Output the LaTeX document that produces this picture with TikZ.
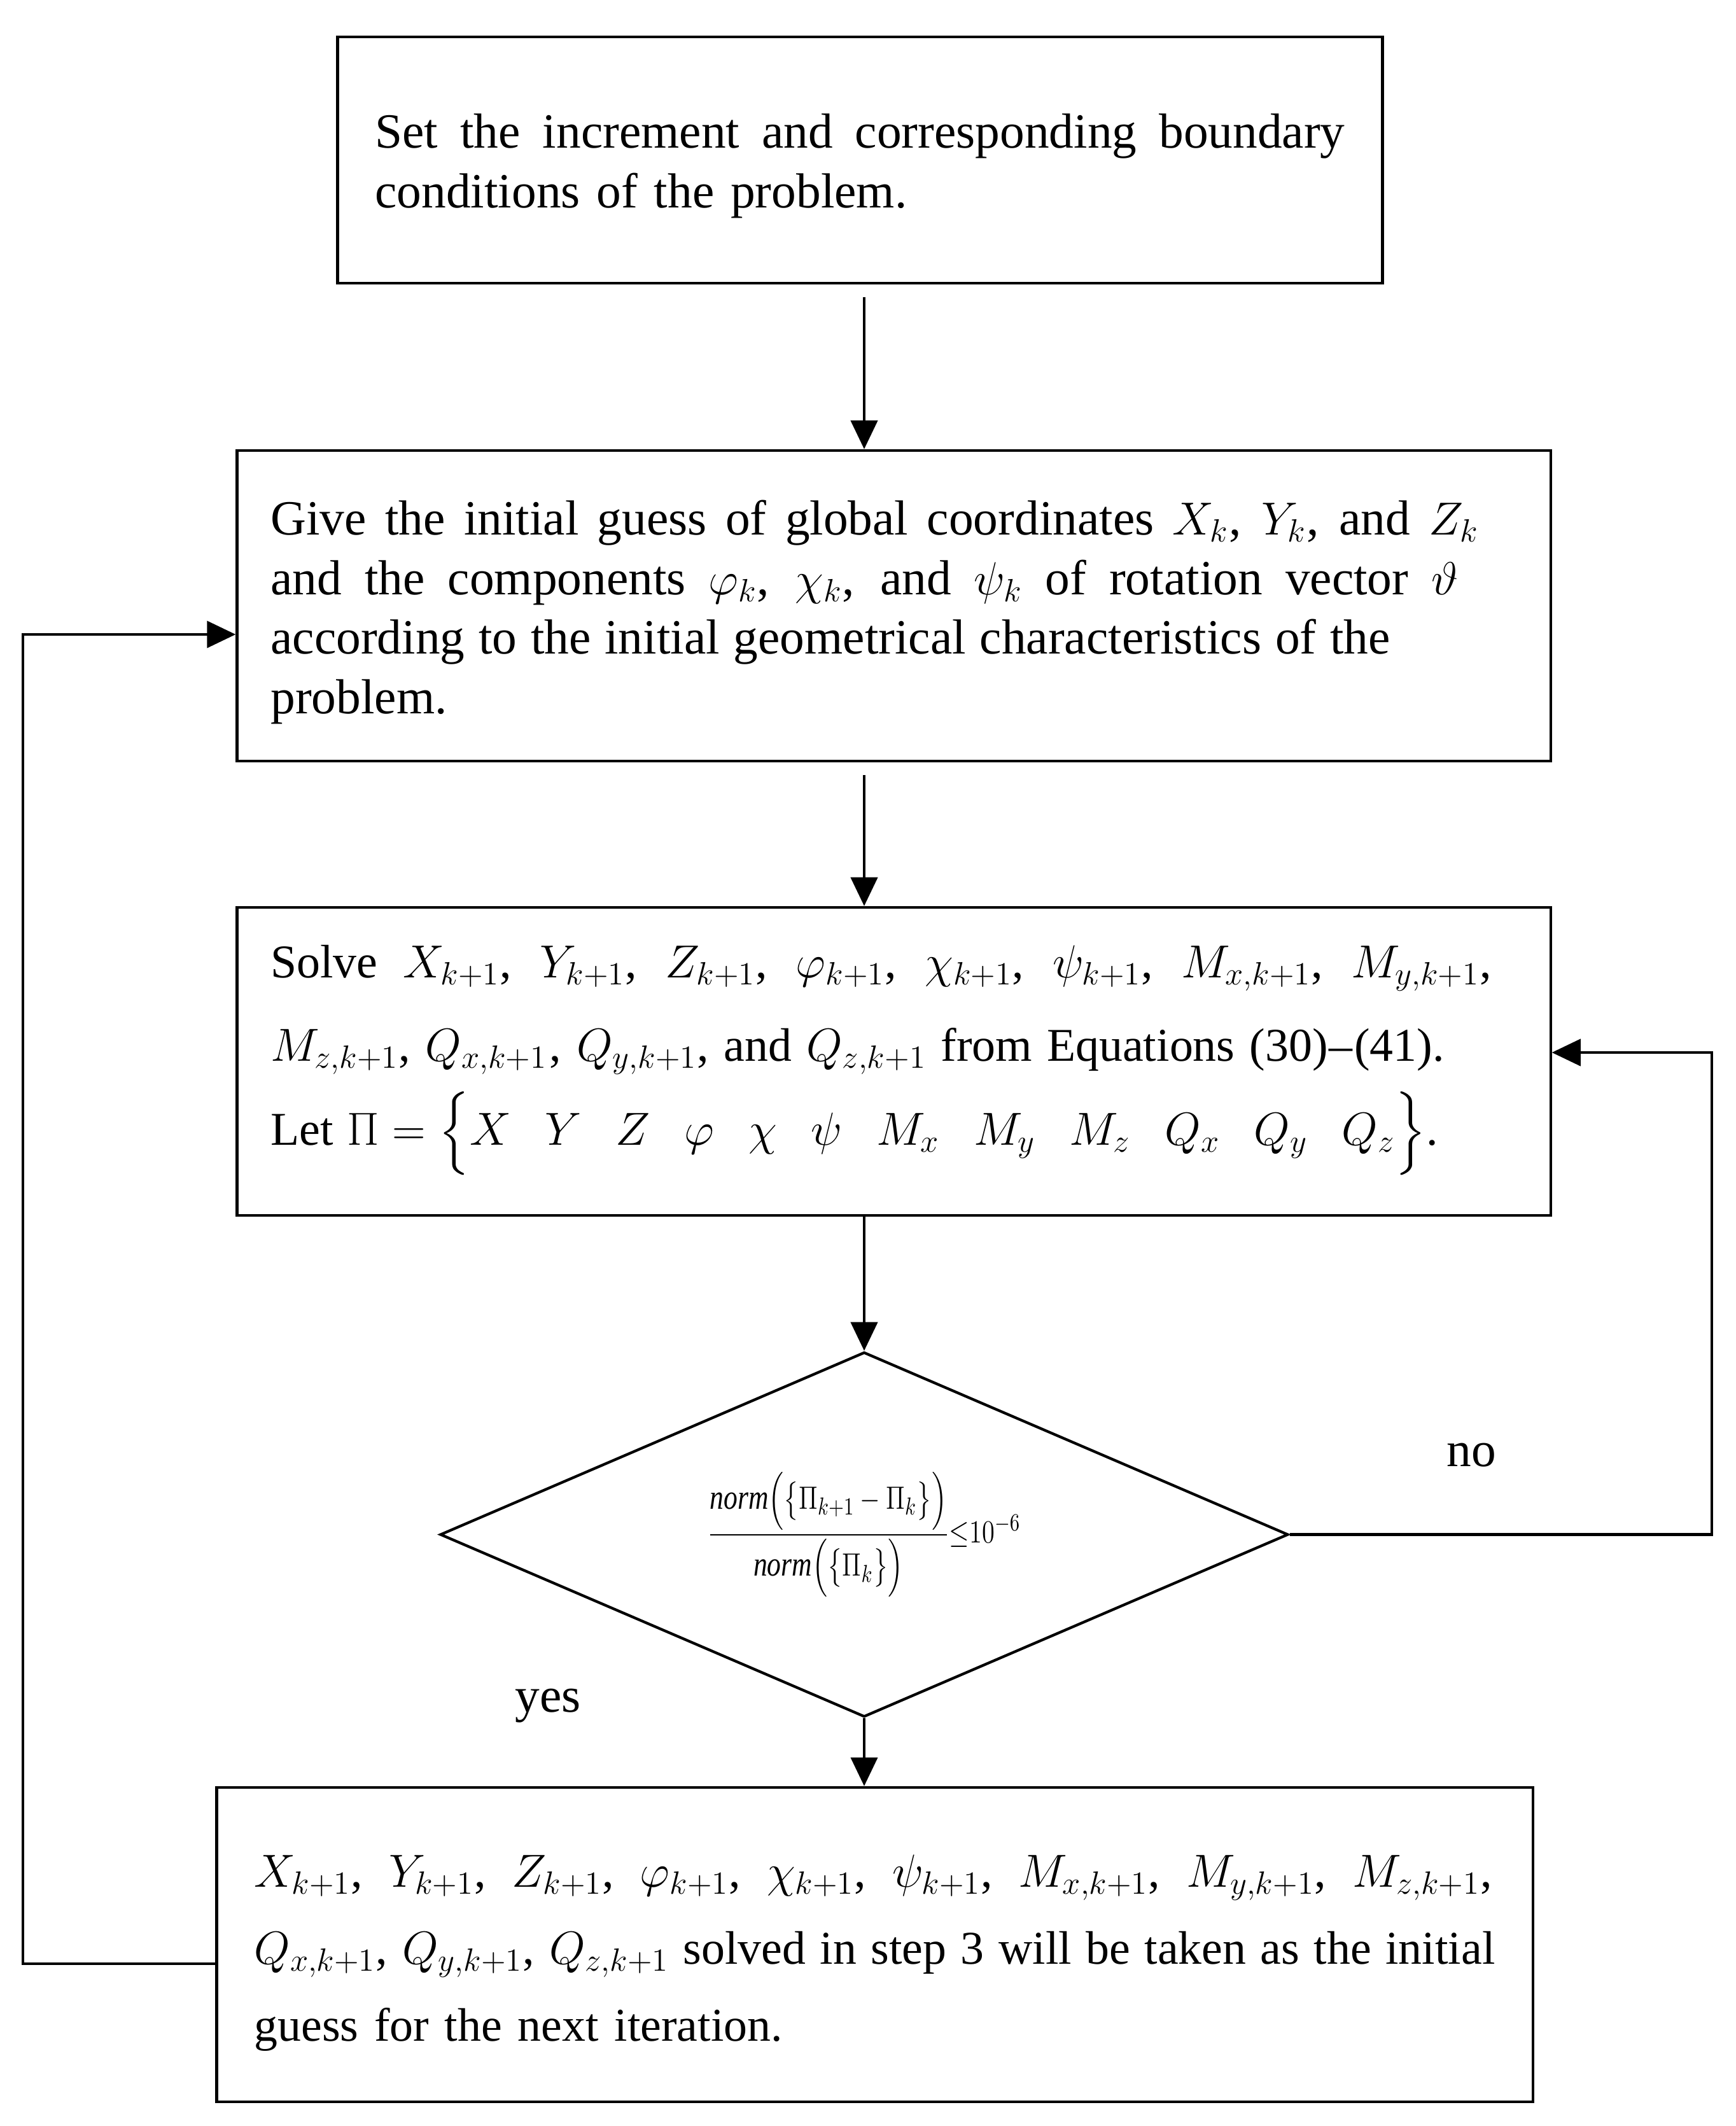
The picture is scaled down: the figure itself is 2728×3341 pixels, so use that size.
\documentclass[tikz,border=0pt]{standalone}
\usepackage{fontspec}
\setmainfont{Liberation Serif}
\usepackage{amsmath}
\usepackage{graphicx}
\usetikzlibrary{shapes.geometric,arrows.meta,calc}
\newcommand{\jl}[2]{\makebox[#1][s]{\spaceskip=\fontdimen2\font plus 1fil minus 0.05em\relax #2}}
\newcommand{\gp}{\hskip 0.4cm plus 1fil\relax}
\begin{document}
\begin{tikzpicture}[x=0.01cm,y=-0.01cm,
  stepbox/.style={draw, line width=1.2pt, rectangle, inner sep=0pt},
  txt/.style={align=left, inner sep=0pt, font=\fontsize{22}{26.7}\selectfont},
  arr/.style={line width=1.2pt, -{Triangle[length=0.45cm,width=0.42cm]}},
  lab/.style={font=\fontsize{22}{26}\selectfont}]
\useasboundingbox (0,0) rectangle (2728,3341);

% boxes
\node[stepbox, minimum width=16.41cm, minimum height=3.87cm] (box1) at (1351.5,251.5) {};
\node[stepbox, minimum width=20.63cm, minimum height=4.88cm] (box2) at (1404.5,952) {};
\node[stepbox, minimum width=20.63cm, minimum height=4.84cm] (box3) at (1404.5,1668) {};
\node[stepbox, minimum width=20.67cm, minimum height=4.94cm] (box4) at (1374.5,3056) {};
\node[diamond, draw, line width=1.2pt, minimum width=13.32cm, minimum height=5.73cm,
  inner sep=0pt, aspect=2.3, font=\fontsize{15.5}{18}\selectfont] (dia) at (1358,2411.5)
 {\scalebox{0.8}[1]{$\dfrac{\mathit{norm}\Bigl(\bigl\{\Pi_{k+1}-\Pi_k\bigr\}\Bigr)}{\mathit{norm}\Bigl(\bigl\{\Pi_k\bigr\}\Bigr)}{\le}10^{-6}$}};

% texts
\node[txt, text width=15.23cm] (t1) at ($(box1.center)+(0,9)$)
 {\jl{15.23cm}{Set the increment and corresponding boundary}\\ conditions of the problem.};

\node[txt, text width=19.57cm] (t2) at ($(box2.center)+(0,10)$)
 {\jl{18.97cm}{Give the initial guess of global coordinates $X_k$, $Y_k$, and $Z_k$}\\
  \jl{18.65cm}{and the components $\varphi_k$, $\chi_k$, and $\psi_k$ of rotation vector $\vartheta$}\\
  \jl{17.58cm}{according to the initial geometrical characteristics of the}\\
  problem.};

\node[txt, text width=19.57cm, font=\fontsize{21}{37.3}\selectfont] (t3) at ($(box3.center)+(0,-2)$)
 {\jl{19.17cm}{Solve $X_{k+1}$, $Y_{k+1}$, $Z_{k+1}$, $\varphi_{k+1}$, $\chi_{k+1}$, $\psi_{k+1}$, $M_{x,k+1}$, $M_{y,k+1}$,}\\
  \jl{18.43cm}{$M_{z,k+1}$, $Q_{x,k+1}$\kern0.05em, $Q_{y,k+1}$, and $Q_{z,k+1}$ from Equations (30)\kern0.03em--\kern0.03em(41).}\\
  \makebox[18.33cm][s]{Let\hspace{0.3em}$\Pi=\Bigl\{X\gp Y\gp Z\gp \varphi\gp \chi\gp \psi\gp M_x\gp M_y\gp M_z\gp Q_x\gp Q_y\gp Q_z\Bigr\}$.}};

\node[txt, text width=19.49cm, font=\fontsize{21}{34.5}\selectfont] (t4) at ($(box4.center)+(0,13)$)
 {\jl{19.44cm}{$X_{k+1}$, $Y_{k+1}$, $Z_{k+1}$, $\varphi_{k+1}$, $\chi_{k+1}$, $\psi_{k+1}$, $M_{x,k+1}$, $M_{y,k+1}$, $M_{z,k+1}$,}\\
  \jl{19.49cm}{$Q_{x,k+1}$, $Q_{y,k+1}$, $Q_{z,k+1}$ solved in step 3 will be taken as the initial}\\
  guess for the next iteration.};

\node[lab] (no) at (2312,2287) {no};
\node[lab] (yes) at (861,2681) {yes};

% connectors
\coordinate (lb) at (36,3086);
\coordinate (lt) at (36,997);
\coordinate (rb) at (2690,2411.5);
\coordinate (rt) at (2690,1654);

\draw[arr, shorten <=0.2cm] (box1.south -| dia.north) -- (box2.north -| dia.north);
\draw[arr, shorten <=0.2cm] (box2.south -| dia.north) -- (box3.north -| dia.north);
\draw[arr] (box3.south -| dia.north) -- (dia.north);
\draw[arr] (dia.south) -- (box4.north -| dia.south);
\draw[arr] (box4.west |- lb) -- (lb) -- (lt) -- (box2.west |- lt);
\draw[arr] (dia.east) -- (dia.east -| rb) -- (rt) -- (box3.east |- rt);
\end{tikzpicture}
\end{document}
